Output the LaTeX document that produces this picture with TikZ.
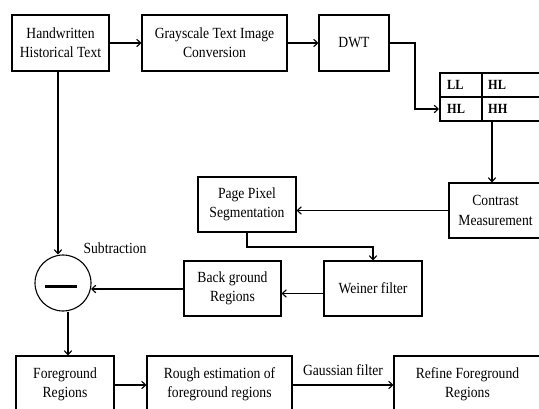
\documentclass[tikz,border=0pt]{standalone}
\usepackage{fontspec}
\setmainfont{Liberation Serif}[FakeStretch=0.88]
\usetikzlibrary{arrows.meta}
\begin{document}
\begin{tikzpicture}[x=1pt,y=-1pt,
  box/.style={draw,line width=1.1pt,rectangle,inner sep=1pt,align=center,
    font=\fontsize{15.5}{19.3}\selectfont},
  conn/.style={line width=1.1pt,-{Straight Barb[length=4pt,width=7.5pt,line width=1.1pt]}},
  lab/.style={font=\fontsize{15.5}{19.3}\selectfont,inner sep=0pt},
  cell/.style={font=\fontsize{14}{15}\selectfont\bfseries,anchor=west,inner sep=0pt}]
\useasboundingbox (0,0) rectangle (539,408);
% boxes
\node[box,minimum width=97pt,minimum height=56pt] (hand) at (60.5,43) {Handwritten\\Historical Text};
\node[box,minimum width=145pt,minimum height=56pt] (gray) at (214.5,43) {Grayscale Text Image\\Conversion};
\node[box,minimum width=70pt,minimum height=56pt] (dwt) at (354,43) {DWT};
\node[draw,line width=2pt,rectangle,minimum width=101pt,minimum height=48pt,inner sep=0pt] (tab) at (490.5,97) {};
\draw[line width=1.1pt] (tab.west) -- (tab.east);
\draw[line width=1.1pt] (tab.north -| 482,0) -- (tab.south -| 482,0);
\node[cell] (ll) at (447,85) {LL};
\node[cell] (hl1) at (488,85) {HL};
\node[cell] (hl2) at (447,109) {HL};
\node[cell] (hh) at (488,109) {HH};
\node[box,minimum width=93pt,minimum height=55pt] (contrast) at (495.5,210.5) {Contrast\\Measurement};
\node[box,minimum width=98pt,minimum height=55pt] (page) at (247,204.5) {Page Pixel\\Segmentation};
\node[box,minimum width=98pt,minimum height=55pt] (weiner) at (373,288.5) {Weiner filter};
\node[box,minimum width=97pt,minimum height=55pt] (back) at (232.5,288.5) {Back ground\\Regions};
\node[draw,circle,line width=1.1pt,minimum size=56pt,inner sep=0pt] (circ) at (63,283) {};
\draw[line width=3pt] (45,286) -- (77,286);
\node[lab] (sub) at (115,248) {Subtraction};
\node[box,minimum width=98pt,minimum height=56pt] (fg) at (65,384) {Foreground\\Regions};
\node[box,minimum width=145pt,minimum height=56pt] (rough) at (219.5,384) {Rough estimation of\\foreground regions};
\node[box,minimum width=147pt,minimum height=56pt] (refine) at (467.5,384) {Refine Foreground\\Regions};
% connectors
\coordinate (d1) at (415,43);
\coordinate (d2) at (415,109);
\coordinate (p1) at (247,247);
\coordinate (p2) at (373,247);
\coordinate (ce) at (91,289);
\draw[conn] (hand) -- (gray);
\draw[conn] (gray) -- (dwt);
\draw[conn] (dwt.east) -- (d1) -- (d2) -- (d2 -| tab.west);
\draw[conn] (tab.south -| 492,0) -- (contrast.north -| 492,0);
\draw[conn] (contrast.west) -- (contrast.west -| page.east);
\draw[conn] (page.south) -- (p1) -- (p2) -- (weiner.north);
\draw[conn] ([yshift=-5pt]weiner.west) -- ([yshift=-5pt]back.east);
\draw[conn] (back.west |- ce) -- (ce);
\draw[conn] ([xshift=-2.5pt]hand.south) -- ([xshift=-5pt]circ.north);
\draw[conn] ([xshift=5pt]circ.south) -- ([xshift=3pt]fg.north);
\draw[conn] ([yshift=-1pt]fg.east) -- ([yshift=-1pt]rough.west);
\draw[conn] ([yshift=-1pt]rough.east) -- node[lab,above=9pt] (gauss) {Gaussian filter} ([yshift=-1pt]refine.west);
\end{tikzpicture}
\end{document}
